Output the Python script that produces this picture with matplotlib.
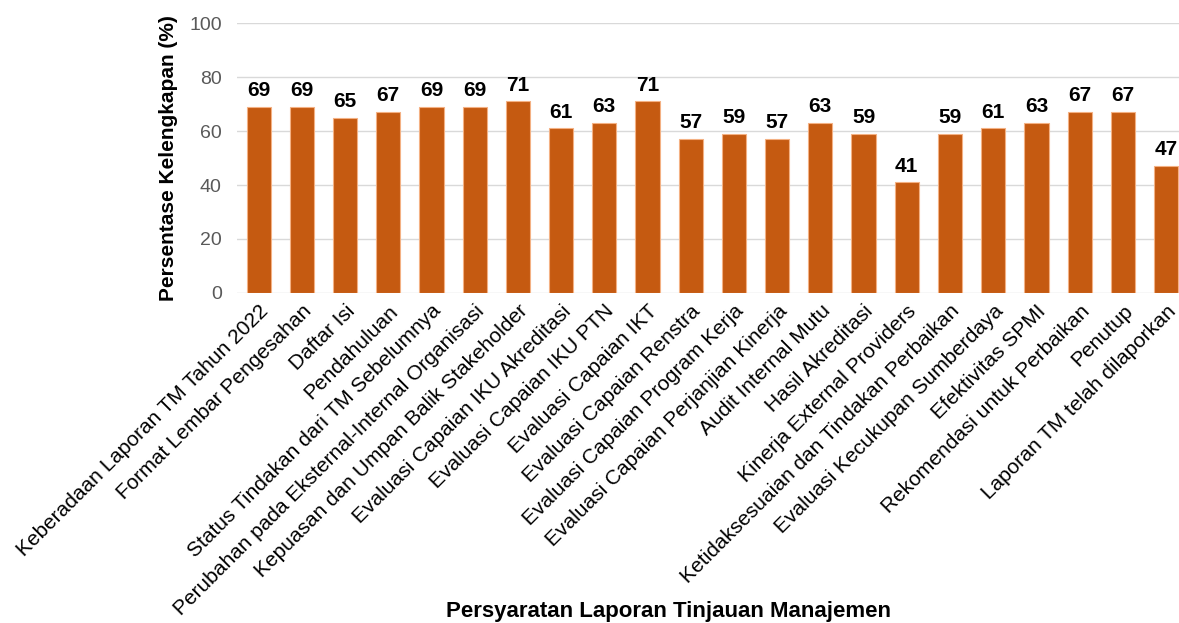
import matplotlib
matplotlib.use("Agg")
import matplotlib.pyplot as plt

categories = [
    "Keberadaan Laporan TM Tahun 2022",
    "Format Lembar Pengesahan",
    "Daftar Isi",
    "Pendahuluan",
    "Status Tindakan dari TM Sebelumnya",
    "Perubahan pada Eksternal-Internal Organisasi",
    "Kepuasan dan Umpan Balik Stakeholder",
    "Evaluasi Capaian IKU Akreditasi",
    "Evaluasi Capaian IKU PTN",
    "Evaluasi Capaian IKT",
    "Evaluasi Capaian Renstra",
    "Evaluasi Capaian Program Kerja",
    "Evaluasi Capaian Perjanjian Kinerja",
    "Audit Internal Mutu",
    "Hasil Akreditasi",
    "Kinerja External Providers",
    "Ketidaksesuaian dan Tindakan Perbaikan",
    "Evaluasi Kecukupan Sumberdaya",
    "Efektivitas SPMI",
    "Rekomendasi untuk Perbaikan",
    "Penutup",
    "Laporan TM telah dilaporkan",
]
values = [69, 69, 65, 67, 69, 69, 71, 61, 63, 71, 57, 59, 57, 63, 59, 41, 59, 61, 63, 67, 67, 47]
yticks = [0, 20, 40, 60, 80, 100]

plt.rcParams['font.family'] = ['Liberation Sans', 'DejaVu Sans']

fig = plt.figure(figsize=(11.79, 6.23), dpi=100)
ax = fig.add_axes([237/1179, 1 - 293/623, 1 - 237/1179, (293 - 23)/623])

x = list(range(len(categories)))
bars = ax.bar(x, values, width=0.56, color="#C55A11", edgecolor="#F4B183", linewidth=0.8, zorder=3)
for xi, v in zip(x, values):
    ax.text(xi, v + 2.5, str(v), ha="center", va="bottom", fontsize=15, fontweight="bold", color="black")

ax.set_xlim(-0.5, 21.3)
ax.set_ylim(0, 100)
ax.set_yticks(yticks)
ax.set_yticklabels([str(t) for t in yticks], fontsize=14, color="#595959")
ax.yaxis.grid(True, color="#D9D9D9", linewidth=1.0, zorder=0)
ax.set_axisbelow(True)
for s in ax.spines.values():
    s.set_visible(False)
ax.tick_params(axis="both", length=0)
ax.tick_params(axis="y", pad=11)
ax.set_xticks(x)
ax.set_xticklabels(categories, rotation=45, ha="right", rotation_mode="anchor", fontsize=15, color="black")
ax.tick_params(axis="x", pad=6)

ax.set_ylabel("Persentase Kelengkapan (%)", fontsize=15, fontweight="bold", labelpad=8)
fig.text(668/1179, 1 - 612/623, "Persyaratan Laporan Tinjauan Manajemen", ha="center", va="center",
         fontsize=16, fontweight="bold")

fig.savefig("out.png", dpi=100)
